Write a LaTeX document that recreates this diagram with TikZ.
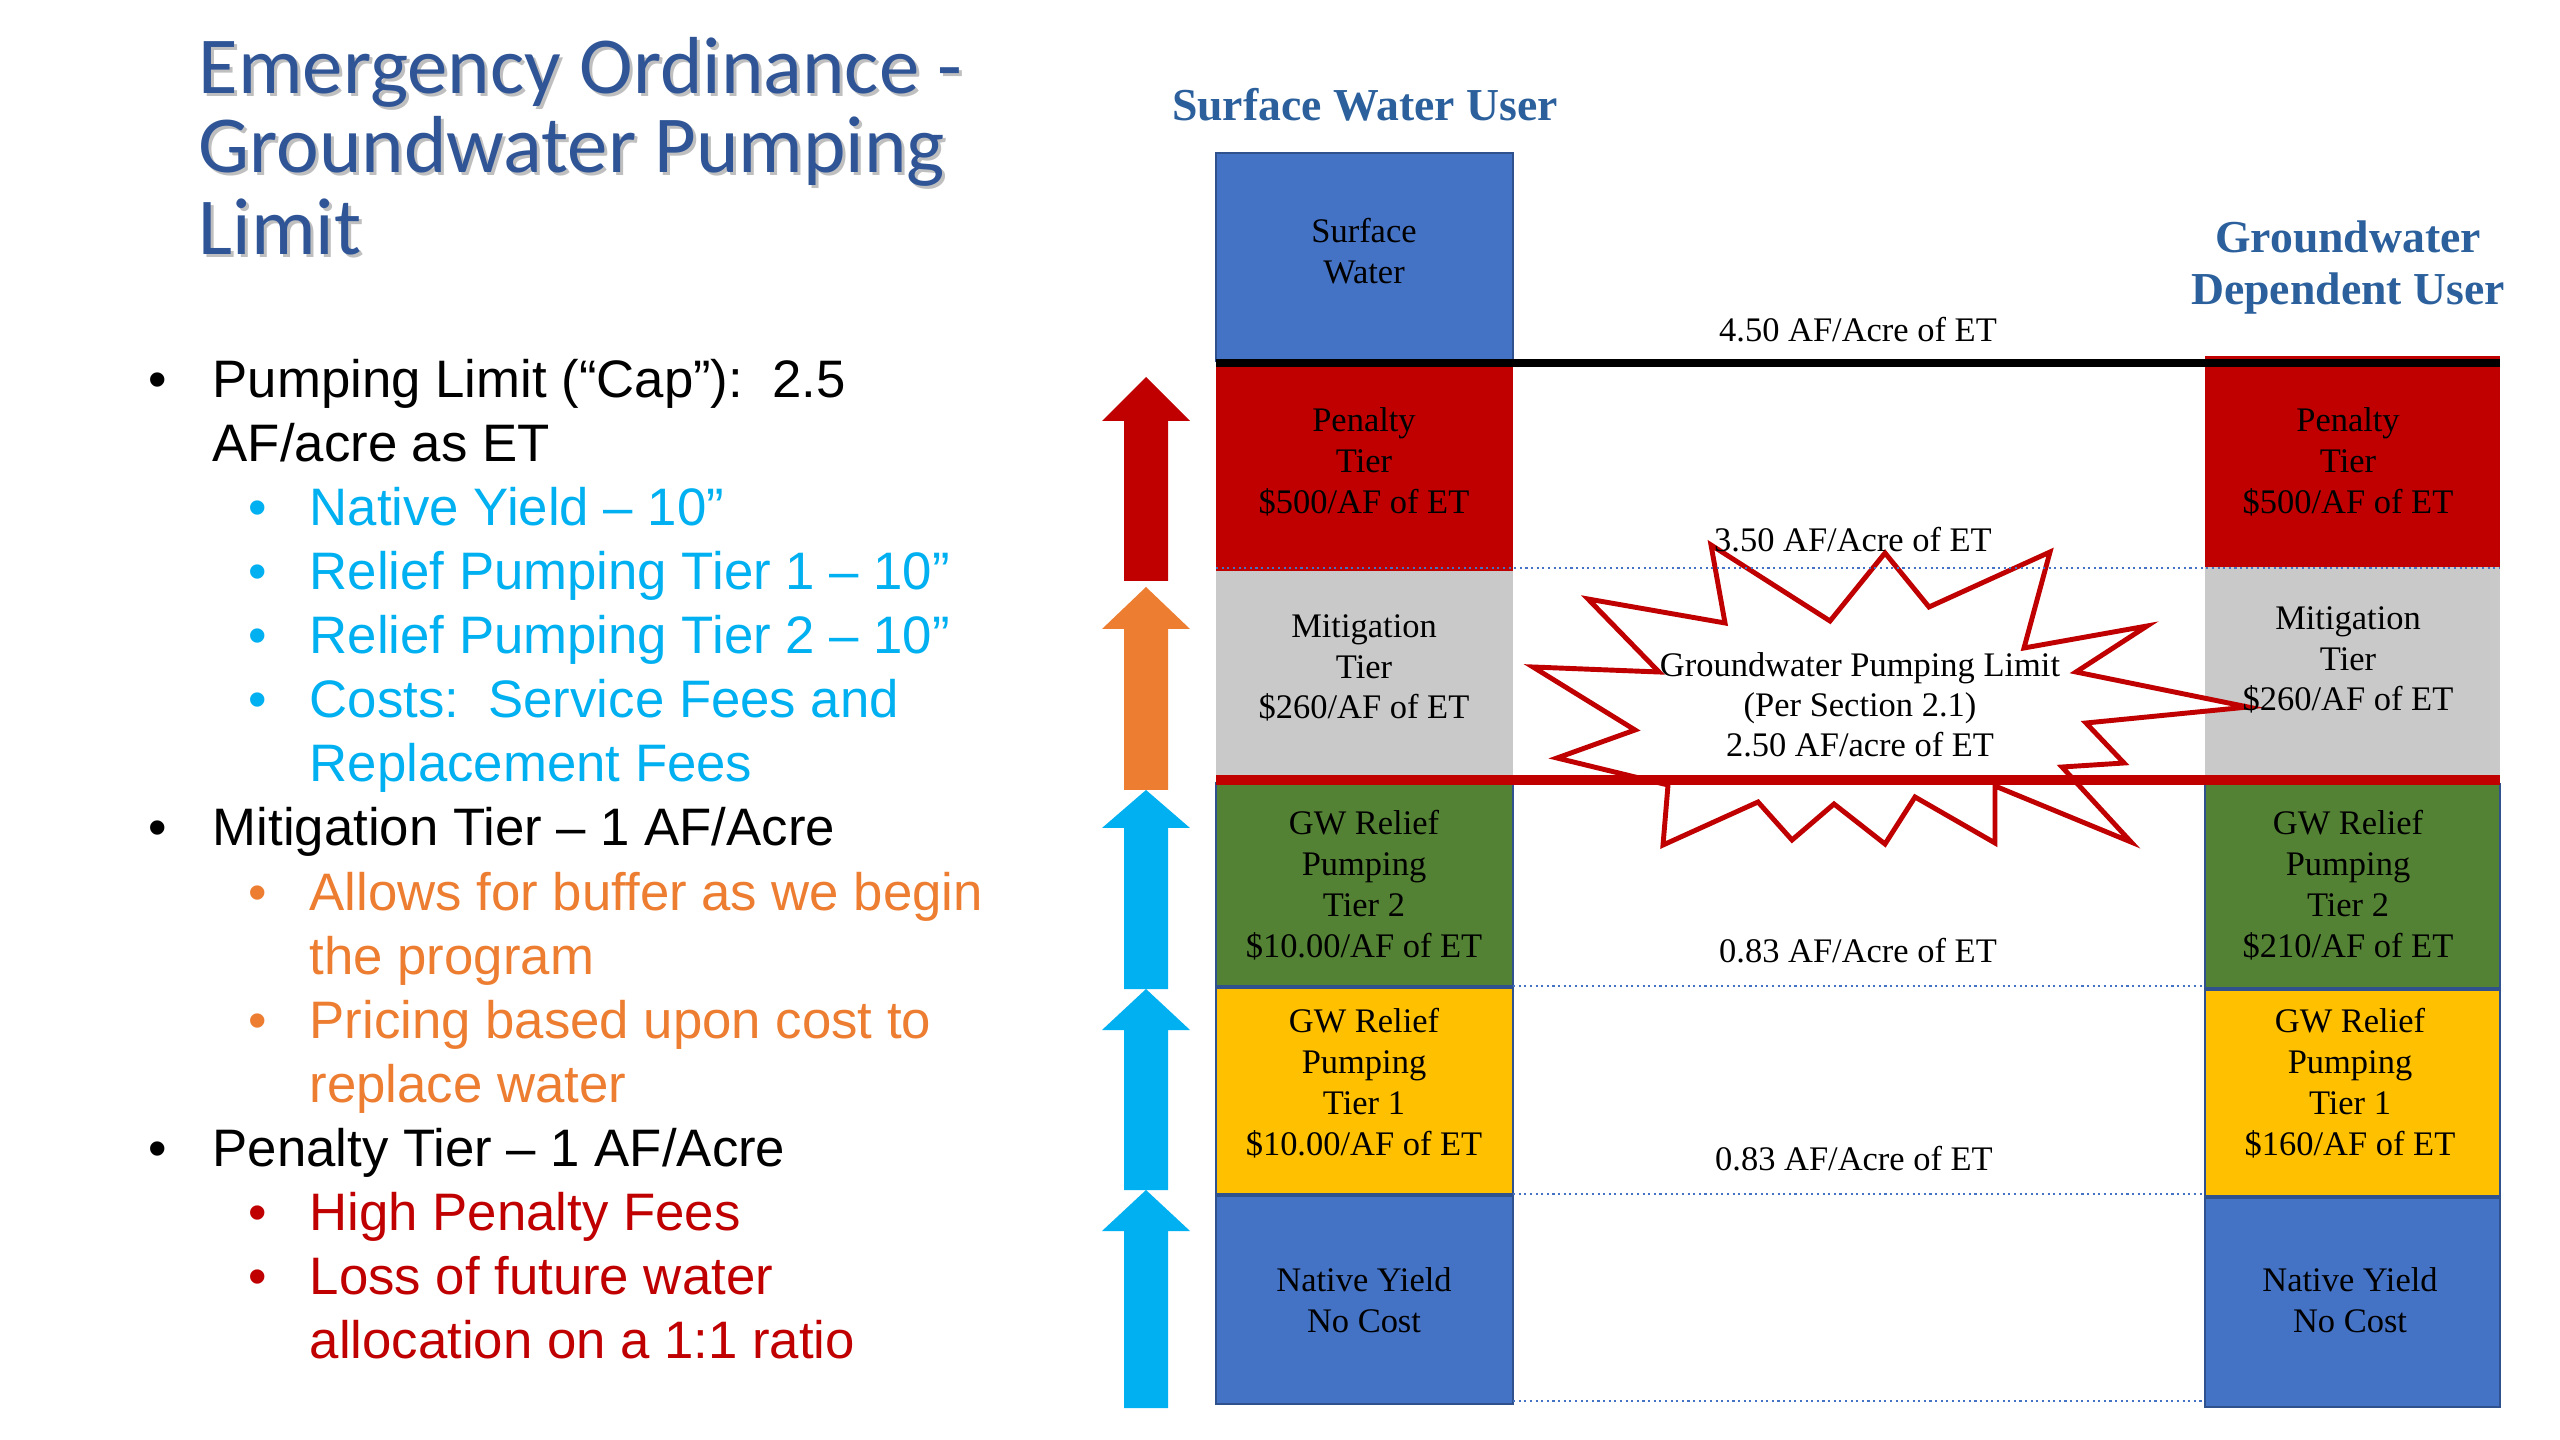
\documentclass[tikz,border=0pt]{standalone}
\usepackage{fontspec}
\setmainfont{Liberation Serif}
\newfontfamily\arialf{Liberation Sans}
\newfontfamily\calib{Carlito}
\definecolor{titleblue}{HTML}{2F5597}
\definecolor{headblue}{HTML}{2B609C}
\definecolor{swblue}{HTML}{4472C4}
\definecolor{edgeblue}{HTML}{2F528F}
\definecolor{penred}{HTML}{C00000}
\definecolor{mitgray}{HTML}{C9C9C9}
\definecolor{tiergreen}{HTML}{548235}
\definecolor{tieryellow}{HTML}{FFC000}
\definecolor{cyanb}{HTML}{00B0F0}
\definecolor{orangeb}{HTML}{ED7D31}
\newcommand\tierbox[6]{%
  \pgfmathsetmacro\tbcx{(#2+#4)/2}\pgfmathsetmacro\tbcy{(#3+#5)/2}%
  \pgfmathsetmacro\tbw{(#4-#2)/100}\pgfmathsetmacro\tbh{(#5-#3)/100}%
  \node[tbox,#6,minimum width=\tbw cm,minimum height=\tbh cm] (#1) at (\tbcx,\tbcy) {};}
\newcommand\tierarrow[4]{%
  \fill[#1] (1124,#2) -- (1168,#2) -- (1168,#3) -- (1190,#3) -- (1146,#4) -- (1102,#3) -- (1124,#3) -- cycle;}
\begin{document}
\begin{tikzpicture}[x=0.01cm,y=-0.01cm,
  tbox/.style={rectangle,inner sep=0pt,outer sep=0pt},
  blueb/.style={fill=swblue,draw=edgeblue,line width=0.6pt},
  redb/.style={fill=penred},
  grayb/.style={fill=mitgray},
  greenb/.style={fill=tiergreen,draw=edgeblue,line width=0.5pt},
  yellowb/.style={fill=tieryellow,draw=edgeblue,line width=0.5pt},
  boxtxt/.style={font=\fontsize{9.8}{11.6}\selectfont,align=center,inner sep=0pt,text=black},
  lvl/.style={font=\fontsize{9.8}{11.6}\selectfont,inner sep=0pt,anchor=base,text=black},
  head/.style={font=\bfseries\fontsize{13}{15.3}\selectfont,text=headblue,inner sep=0pt,anchor=base},
  dotline/.style={densely dotted,draw=swblue,line width=0.6pt},
  starb/.style={fill=white,draw=penred,line width=1.4pt,line join=miter},
  ttl/.style={font=\calib\fontsize{23}{22}\selectfont,inner sep=0pt,anchor=base west},
  blt/.style={font=\arialf\fontsize{15}{18}\selectfont,inner sep=0pt,anchor=base west},
  bdot/.style={font=\arialf\fontsize{15}{18}\selectfont,inner sep=0pt,anchor=base},
]
\useasboundingbox (0,0) rectangle (2560,1440);
\fill[white] (0,0) rectangle (2560,1440);

% Title with shadow
\foreach \tl/\ty/\tn in {Emergency Ordinance -/94/t1,Groundwater Pumping/173/t2,Limit/255/t3}{
  \node[ttl,text=black!25] at (201,\ty+3) {\tl};
  \node[ttl,text=titleblue] (\tn) at (198,\ty) {\tl};
}

% Bullet list
\node[bdot] (d1) at (158,398) {•};
\node[blt] (b1) at (212,398) {Pumping Limit (“Cap”):\ \ 2.5};
\node[blt] (b2) at (212,462) {AF/acre as ET};
\node[bdot,text=cyanb] (d3) at (258,526) {•};
\node[blt,text=cyanb] (b3) at (309,526) {Native Yield – 10”};
\node[bdot,text=cyanb] (d4) at (258,590) {•};
\node[blt,text=cyanb] (b4) at (309,590) {Relief Pumping Tier 1 – 10”};
\node[bdot,text=cyanb] (d5) at (258,654) {•};
\node[blt,text=cyanb] (b5) at (309,654) {Relief Pumping Tier 2 – 10”};
\node[bdot,text=cyanb] (d6) at (258,718) {•};
\node[blt,text=cyanb] (b6) at (309,718) {Costs:\ \ Service Fees and};
\node[blt,text=cyanb] (b7) at (309,782) {Replacement Fees};
\node[bdot] (d8) at (158,846) {•};
\node[blt] (b8) at (212,846) {Mitigation Tier – 1 AF/Acre};
\node[bdot,text=orangeb] (d9) at (258,910) {•};
\node[blt,text=orangeb] (b9) at (309,910) {Allows for buffer as we begin};
\node[blt,text=orangeb] (b10) at (309,974) {the program};
\node[bdot,text=orangeb] (d11) at (258,1038) {•};
\node[blt,text=orangeb] (b11) at (309,1038) {Pricing based upon cost to};
\node[blt,text=orangeb] (b12) at (309,1102) {replace water};
\node[bdot] (d13) at (158,1166) {•};
\node[blt] (b13) at (212,1166) {Penalty Tier – 1 AF/Acre};
\node[bdot,text=penred] (d14) at (258,1230) {•};
\node[blt,text=penred] (b14) at (309,1230) {High Penalty Fees};
\node[bdot,text=penred] (d15) at (258,1294) {•};
\node[blt,text=penred] (b15) at (309,1294) {Loss of future water};
\node[blt,text=penred] (b16) at (309,1358) {allocation on a 1:1 ratio};

% Headers
\node[head] (hsw) at (1365,121) {Surface Water User};
\node[head] (hgw1) at (2348,253) {Groundwater};
\node[head] (hgw2) at (2348,305) {Dependent User};

% Left column boxes
\tierbox{lsw}{1216}{153}{1513}{361}{blueb}
\tierbox{lpen}{1216}{363}{1513}{571}{redb}
\tierbox{lmit}{1216}{571}{1513}{776}{grayb}
\tierbox{lgr}{1216}{783}{1513}{986}{greenb}
\tierbox{lye}{1216}{988}{1513}{1194}{yellowb}
\tierbox{lna}{1216}{1196}{1513}{1404}{blueb}
% Right column boxes
\tierbox{rpen}{2205}{356}{2500}{567}{redb}
\tierbox{rmit}{2205}{567}{2500}{778}{grayb}
\tierbox{rgr}{2205}{784}{2500}{988}{greenb}
\tierbox{rye}{2205}{990}{2500}{1196}{yellowb}
\tierbox{rna}{2205}{1198}{2500}{1407}{blueb}

% Arrows
\tierarrow{penred}{581}{421}{377}
\tierarrow{orangeb}{790}{629}{587}
\tierarrow{cyanb}{989}{828}{790}
\tierarrow{cyanb}{1190}{1030}{989}
\tierarrow{cyanb}{1408}{1231}{1190}

% Starburst
\draw[starb] (1711,545) -- (1725,623) -- (1588,599) -- (1659,672) -- (1533,667) -- (1635,730)
  -- (1557,758) -- (1668,785) -- (1663,845) -- (1758,802) -- (1792,840) -- (1834,804)
  -- (1885,844) -- (1915,797) -- (1995,843) -- (1995,786) -- (2131,842) -- (2062,767)
  -- (2124,763) -- (2086,723) -- (2248,707) -- (2076,672) -- (2147,626) -- (2024,648)
  -- (2050,552) -- (1929,607) -- (1885,553) -- (1830,621) -- cycle;

% Level lines
\draw[black,line width=2.3pt] (lpen.north west) -- (lpen.north west -| rpen.east);
\draw[penred,line width=2.6pt] (1216,780) -- (2500,780);
\draw[dotline] (1216,568) -- (2500,568);
\draw[dotline] (lgr.south east) -- (lgr.south east -| rgr.west);
\draw[dotline] (lye.south east) -- (lye.south east -| rye.west);
\draw[dotline] (1513,1401) -- (2205,1401);

% Level labels
\node[lvl] (l450) at (1858,342) {4.50 AF/Acre of ET};
\node[lvl] (l350) at (1853,552) {3.50 AF/Acre of ET};
\node[lvl] (l083a) at (1858,962) {0.83 AF/Acre of ET};
\node[lvl] (l083b) at (1854,1170) {0.83 AF/Acre of ET};

% Starburst text
\node[lvl] (s1) at (1860,677) {Groundwater Pumping Limit};
\node[lvl] (s2) at (1860,717) {(Per Section 2.1)};
\node[lvl] (s3) at (1860,757) {2.50 AF/acre of ET};

% Box texts
\node[boxtxt] at (1364,251) {Surface\\Water};
\node[boxtxt] at (1364,462) {Penalty\\Tier\\\$500/AF of ET};
\node[boxtxt] at (2348,462) {Penalty\\Tier\\\$500/AF of ET};
\node[boxtxt] at (1364,668) {Mitigation\\Tier\\\$260/AF of ET};
\node[boxtxt] at (2348,660) {Mitigation\\Tier\\\$260/AF of ET};
\node[boxtxt] at (1364,885) {GW Relief\\Pumping\\Tier 2\\\$10.00/AF of ET};
\node[boxtxt] at (2348,885) {GW Relief\\Pumping\\Tier 2\\\$210/AF of ET};
\node[boxtxt] at (1364,1083) {GW Relief\\Pumping\\Tier 1\\\$10.00/AF of ET};
\node[boxtxt] at (2350,1083) {GW Relief\\Pumping\\Tier 1\\\$160/AF of ET};
\node[boxtxt] at (1364,1300) {Native Yield\\No Cost};
\node[boxtxt] at (2350,1300) {Native Yield\\No Cost};
\end{tikzpicture}
\end{document}
